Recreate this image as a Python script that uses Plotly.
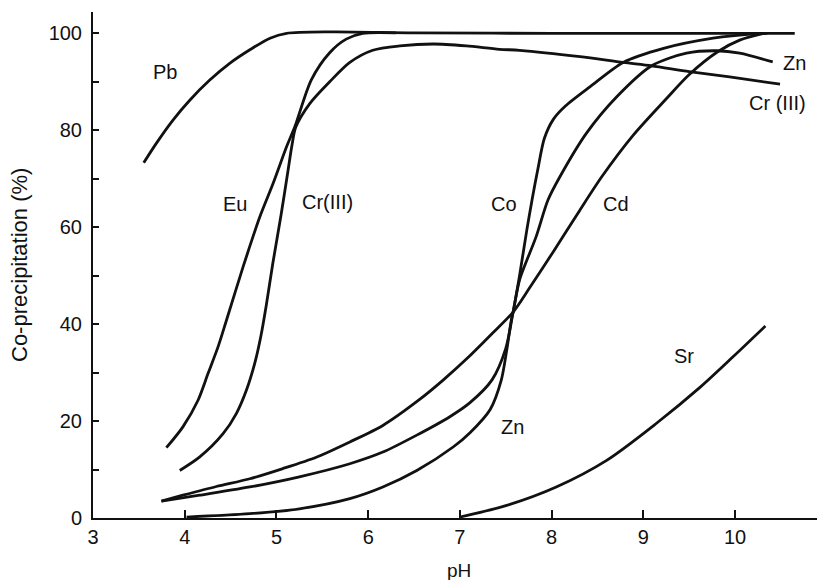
import plotly.graph_objects as go

# ---- data ----
pb_x = [3.553, 3.69, 3.872, 4.055, 4.27, 4.49, 4.71, 4.93, 5.11, 5.6, 6.5, 8.0, 10.65]
pb_y = [73.3, 77.3, 82.1, 86.2, 90.3, 93.8, 96.6, 99.0, 100.0, 100.3, 100.1, 100.0, 100.0]

eu_x = [3.80, 3.98, 4.145, 4.254, 4.363, 4.455, 4.636, 4.818, 4.963, 5.11, 5.20, 5.38, 5.58, 5.76, 5.94, 6.3]
eu_y = [14.5, 18.8, 24.3, 29.8, 35.3, 40.8, 51.8, 62.1, 69.0, 76.6, 80.7, 90.4, 96.0, 98.8, 100.0, 100.1]

cr_x = [3.946, 4.164, 4.418, 4.564, 4.673, 4.763, 4.83, 4.89, 4.96, 5.05, 5.127, 5.17, 5.21,
        5.363, 5.58, 5.80, 6.05, 6.345, 6.71, 7.07, 7.43, 7.65, 8.31, 8.78, 9.09, 9.50, 9.94, 10.49]
cr_y = [9.8, 12.6, 17.4, 21.6, 26.4, 31.9, 37.5, 44.0, 52.5, 62.5, 71.8, 77.0, 80.6,
        85.5, 90.0, 94.0, 96.5, 97.4, 97.8, 97.4, 96.7, 96.5, 95.2, 94.0, 93.3, 92.1, 91.0, 89.5]

co_x = [3.746, 4.164, 4.71, 5.25, 5.80, 6.16, 6.53, 6.89, 7.11, 7.35, 7.50, 7.58, 7.65, 7.73, 7.79, 7.85,
        7.92, 8.02, 8.15, 8.42, 8.78, 9.22, 9.76, 10.2, 10.35]
co_y = [3.5, 4.7, 6.4, 8.5, 11.2, 13.6, 17.1, 20.9, 23.8, 28.5, 35.0, 42.5, 50.0, 59.5, 66.0, 72.0,
        78.3, 82.3, 85.0, 89.0, 94.0, 96.9, 99.0, 99.9, 100.0]

zn_x = [4.02, 4.71, 5.25, 5.80, 6.16, 6.53, 6.93, 7.11, 7.33, 7.45, 7.51, 7.56, 7.58, 7.65, 7.83, 7.96,
        8.09, 8.38, 8.71, 9.09, 9.47, 9.80, 10.05, 10.41]
zn_y = [0.2, 0.9, 1.9, 4.0, 6.4, 9.8, 14.7, 17.6, 22.4, 28.4, 34.6, 40.8, 42.5, 49.1, 58.0, 65.6,
        70.4, 79.4, 86.9, 93.3, 95.9, 96.4, 95.9, 94.1]

cd_x = [3.746, 3.98, 4.345, 4.71, 5.07, 5.44, 5.80, 6.16, 6.55, 6.82, 7.10, 7.36, 7.58, 7.76, 8.02, 8.29,
        8.55, 8.89, 9.25, 9.50, 9.81, 10.05, 10.32]
cd_y = [3.5, 4.7, 6.5, 8.1, 10.2, 12.6, 15.7, 19.1, 24.3, 28.5, 33.3, 38.2, 42.5, 47.5, 55.0, 63.0,
        70.5, 79.0, 86.5, 91.5, 96.2, 98.6, 100.0]

sr_x = [7.0, 7.51, 8.05, 8.60, 9.14, 9.62, 9.98, 10.33]
sr_y = [0.2, 2.6, 6.4, 11.9, 19.5, 27.0, 33.3, 39.6]

label_text = ["Pb", "Eu", "Cr(III)", "Co", "Cd", "Zn", "Cr (III)", "Zn", "Sr"]
label_x = [3.79, 4.545, 5.56, 7.48, 8.70, 10.65, 10.46, 7.57, 9.44]
label_y = [92.0, 64.8, 65.2, 64.8, 64.8, 93.9, 85.6, 18.7, 33.4]

x_ticks = [3, 4, 5, 6, 7, 8, 9, 10]
y_ticks = [0, 20, 40, 60, 80, 100]
y_minor = [10, 30, 50, 70, 90]

# ---- figure ----
FONT = "Liberation Sans, Arial, Helvetica, sans-serif"
INK = "#111111"

fig = go.Figure()
series = [(pb_x, pb_y), (eu_x, eu_y), (cr_x, cr_y), (co_x, co_y),
          (zn_x, zn_y), (cd_x, cd_y), (sr_x, sr_y)]
names = ["Pb", "Eu", "Cr(III)", "Co", "Zn", "Cd", "Sr"]
for (xs, ys), nm in zip(series, names):
    fig.add_trace(go.Scatter(x=xs, y=ys, mode="lines", name=nm,
                             line=dict(color=INK, width=2.8, shape="spline", smoothing=0.8),
                             showlegend=False, hoverinfo="skip"))

for t, x, y in zip(label_text, label_x, label_y):
    fig.add_annotation(x=x, y=y, text=t, showarrow=False,
                       font=dict(family=FONT, size=20, color=INK),
                       xanchor="center", yanchor="middle")

fig.add_annotation(xref="paper", yref="paper", x=0, y=0.5, xshift=-74,
                   text="Co-precipitation (%)", textangle=-90, showarrow=False,
                   font=dict(family=FONT, size=22, color=INK),
                   xanchor="center", yanchor="middle")
fig.add_annotation(xref="paper", yref="paper", x=0.5, y=0, yshift=-52,
                   text="pH", showarrow=False,
                   font=dict(family=FONT, size=19, color=INK),
                   xanchor="center", yanchor="middle")

fig.update_layout(
    width=817, height=572,
    margin=dict(l=85, r=0, t=4, b=62),
    paper_bgcolor="white", plot_bgcolor="white",
    font=dict(family=FONT, size=20, color=INK),
    xaxis=dict(range=[3, 10.98], tickvals=x_ticks, ticks="inside", ticklen=8, tickwidth=1.5,
               tickcolor=INK, showline=True, linecolor=INK, linewidth=2,
               showgrid=False, zeroline=False, tickfont=dict(size=20)),
    yaxis=dict(range=[0, 104.4], tickvals=y_ticks, ticks="inside", ticklen=6, tickwidth=1.5,
               tickcolor=INK, showline=True, linecolor=INK, linewidth=2,
               showgrid=False, zeroline=False, tickfont=dict(size=20), ticklabelstandoff=5,
               minor=dict(tickvals=y_minor, ticks="inside", ticklen=6, tickwidth=1.5,
                          tickcolor=INK, showgrid=False)),
)

fig.write_html("out.html")
